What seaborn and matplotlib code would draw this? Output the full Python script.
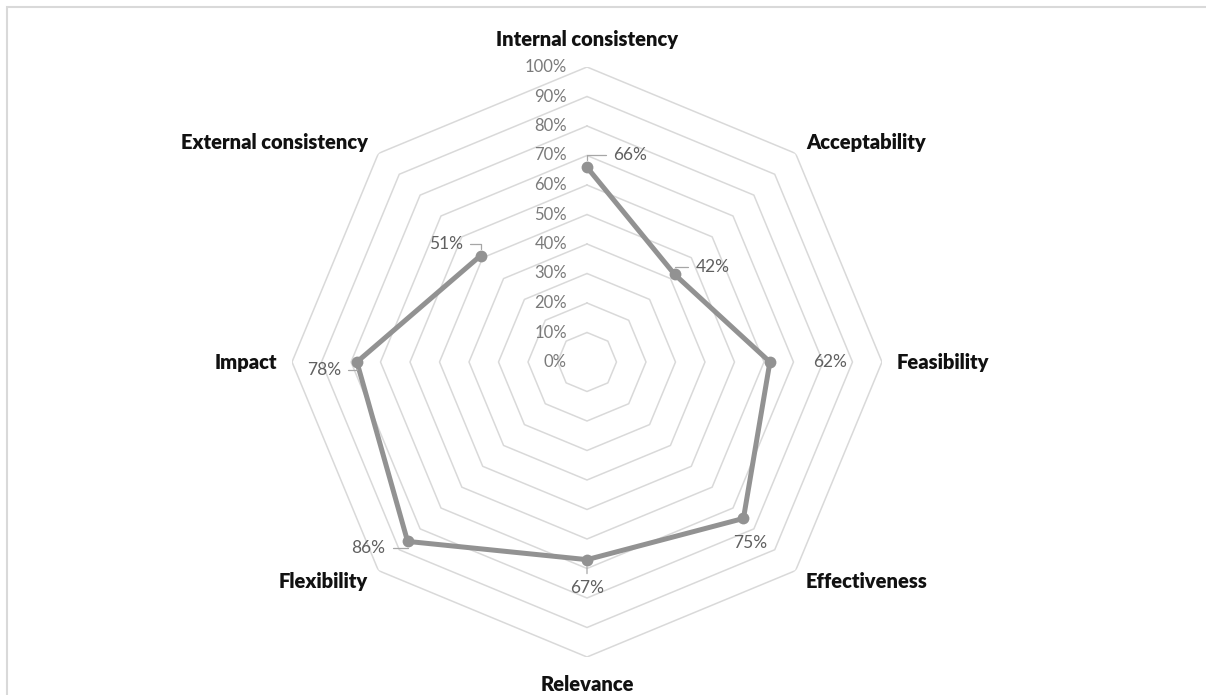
import numpy as np
import pandas as pd
import matplotlib
matplotlib.use("Agg")
import matplotlib.pyplot as plt
import seaborn as sns
from matplotlib.patches import Rectangle

# ---- data ----
categories = ["Internal consistency", "Acceptability", "Feasibility", "Effectiveness",
              "Relevance", "Flexibility", "Impact", "External consistency"]
values = [66, 42, 62, 75, 67, 86, 78, 51]
ring_levels = [0, 10, 20, 30, 40, 50, 60, 70, 80, 90, 100]
tick_labels = ["0%", "10%", "20%", "30%", "40%", "50%", "60%", "70%", "80%", "90%", "100%"]
value_labels = ["66%", "42%", "62%", "75%", "67%", "86%", "78%", "51%"]

sns.set_theme(style="white")
plt.rcParams['font.family'] = ['Lato', 'DejaVu Sans']

W, H = 1206, 695
fig = plt.figure(figsize=(W / 100, H / 100), dpi=100)
cx, cy, R = 587, 362, 295
ax = fig.add_axes([(cx - R) / W, (H - cy - R) / H, 2 * R / W, 2 * R / H], projection='polar')
ax.set_theta_offset(np.pi / 2)
ax.set_theta_direction(-1)
ax.patch.set_alpha(0)

n = len(categories)
angles = np.arange(n) * 2 * np.pi / n
closed_angles = np.append(angles, angles[0])

grid_color = '#d9d9d9'
for lvl in ring_levels:
    ax.plot(closed_angles, [lvl] * (n + 1), color=grid_color, lw=1.1, zorder=1)

line_color = '#929292'
df = pd.DataFrame({"theta": closed_angles, "value": values + [values[0]]})
sns.lineplot(data=df, x="theta", y="value", sort=False, ax=ax, color=line_color,
             lw=3.6, marker='o', markersize=8.5, markeredgewidth=0, zorder=3)

ax.set_ylim(0, 100)
ax.grid(False)
ax.spines['polar'].set_visible(False)
ax.set_xticks([])
ax.set_yticks([])
ax.set_xlabel("")
ax.set_ylabel("")

px = 0.72  # pixels -> points

# radial tick labels
for lvl, lab in zip(ring_levels, tick_labels):
    ax.annotate(lab, xy=(0, lvl), xytext=(-20 * px, 0), textcoords='offset points',
                ha='right', va='center', color='#7a7a7a', fontsize=12)

# category labels
for ang, cat in zip(angles, categories):
    s = np.sin(ang)
    if s > 0.01:
        ha, r = 'left', 105
    elif s < -0.01:
        ha, r = 'right', 105
    else:
        ha, r = 'center', 109.3
    ax.text(ang, r, cat, ha=ha, va='center', fontsize=14.5, fontweight='heavy', color='#111111')

# data labels with leader lines
label_style = [
    # (dx px, dy px, ha, leader)
    (26, 12, 'left', 'angle'),
    (21, 7, 'left', 'angle'),
    (43, 0, 'left', None),
    (7, -25, 'center', None),
    (0, -28, 'center', 'straight'),
    (-22, -7, 'right', 'angle'),
    (-16, -8, 'right', 'angle'),
    (-18, 12, 'right', 'angle'),
]
for ang, v, lab, (dx, dy, ha, leader) in zip(angles, values, value_labels, label_style):
    kw = {}
    if leader == 'angle':
        relpos = (0, 0.5) if ha == 'left' else (1, 0.5)
        kw['arrowprops'] = dict(arrowstyle='-', color='#a6a6a6', lw=0.9, shrinkA=3, shrinkB=5,
                                relpos=relpos,
                                connectionstyle='angle,angleA=0,angleB=90,rad=0')
    elif leader == 'straight':
        kw['arrowprops'] = dict(arrowstyle='-', color='#a6a6a6', lw=0.9, shrinkA=2, shrinkB=5,
                                relpos=(0.5, 1))
    ax.annotate(lab, xy=(ang, v), xytext=(dx * px, dy * px), textcoords='offset points',
                ha=ha, va='center', color='#606060', fontsize=12.5, zorder=4, **kw)

# chart frame
fig.add_artist(Rectangle((7 / W, -0.01), 1.1, 1.01 - 7 / H, transform=fig.transFigure,
                         fill=False, edgecolor=grid_color, lw=1.5))

fig.savefig("out.png", dpi=100)
